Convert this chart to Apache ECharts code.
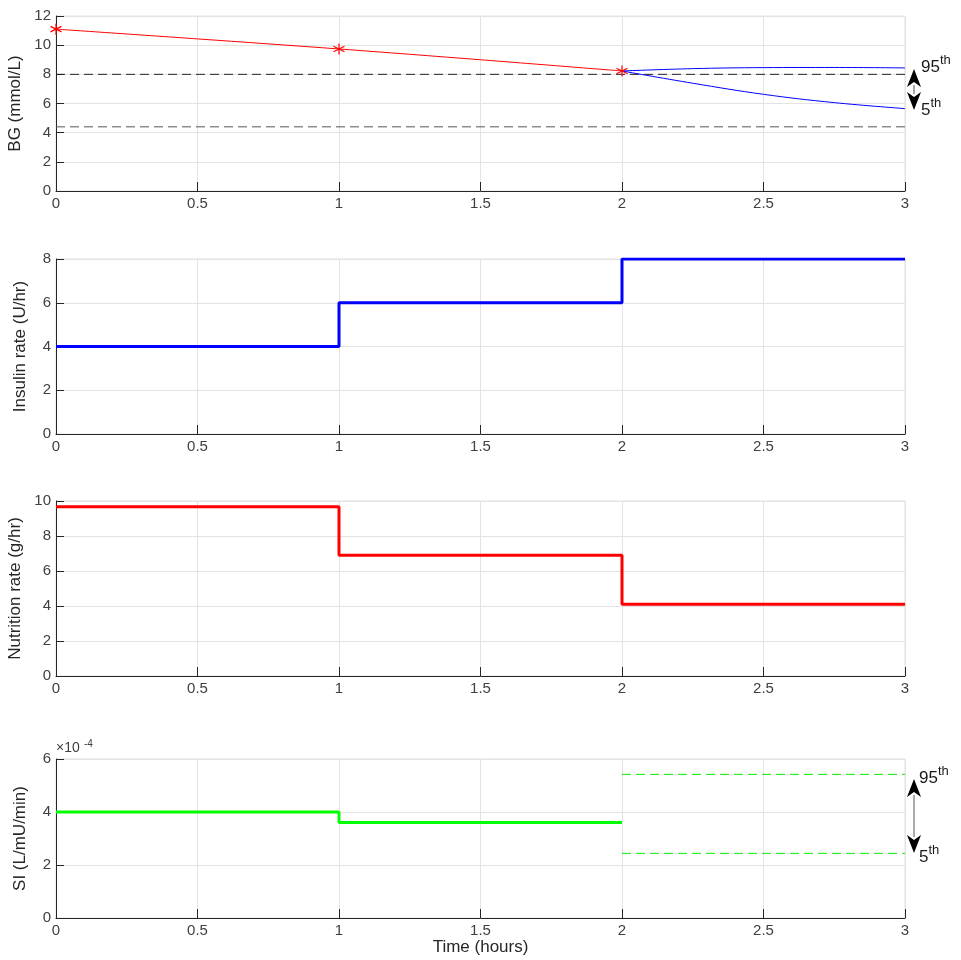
<!DOCTYPE html>
<html><head><meta charset="utf-8">
<script src="https://cdn.jsdelivr.net/npm/echarts@6/dist/echarts.min.js"></script>
<style>html,body{margin:0;padding:0;background:#fff}#c{width:961px;height:960px}</style>
</head><body><div id="c"></div>
<script>
// ---- data ----
const bgMeasTimes = [0, 1, 2];
const bgMeasured = [11.1, 9.74, 8.23];
const bgFitTimes = [0, 0.5, 1, 1.5, 2];
const bgFit = [11.1, 10.43, 9.74, 9.0, 8.23];
const fcTimes = [2, 2.25, 2.5, 2.75, 3];
const bg95 = [8.23, 8.39, 8.46, 8.47, 8.44];
const bg5 = [8.23, 7.39, 6.63, 6.06, 5.65];
const bgTargetUpper = 8.0;
const bgTargetLower = 4.4;
const stepTimes = [0, 1, 2, 3];
const insulinRates = [4, 6, 8];
const nutritionRates = [9.67, 6.9, 4.1];
const siRates = [4.0, 3.6];          // x10^-4 L/mU/min
const si95 = 5.42, si5 = 2.44;      // x10^-4
const xTicks = [0, 0.5, 1, 1.5, 2, 2.5, 3];

const FONT = 'Liberation Sans, Arial, sans-serif';
const pairs = (xs, ys) => ys.map((y, i) => [xs[i], y]);
const stepData = (vals) => { const d = vals.map((v, i) => [stepTimes[i], v]); if (stepTimes.length > vals.length) d.push([stepTimes[vals.length], vals[vals.length - 1]]); return d; };

const grids = [
  {left: 56, right: 56, top: 16, height: 175},
  {left: 56, right: 56, top: 259, height: 175},
  {left: 56, right: 56, top: 501, height: 175},
  {left: 56, right: 56, top: 759, height: 159}
].map(g => Object.assign(g, {show: true, borderColor: '#e3e3e3', borderWidth: 1, containLabel: false, outerBoundsMode: 'none'}));

const xAxis = grids.map((g, i) => ({
  type: 'value', gridIndex: i, min: xTicks[0], max: xTicks[xTicks.length - 1], interval: 0.5,
  axisLine: {show: true, onZero: false, lineStyle: {color: '#262626', width: 1}},
  axisTick: {show: true, inside: true, length: 9, lineStyle: {color: '#262626'}},
  axisLabel: {color: '#404040', fontSize: 15, fontFamily: FONT, margin: 5},
  splitLine: {show: true, lineStyle: {color: '#e3e3e3'}},
  name: i === 3 ? 'Time (hours)' : '', nameLocation: 'middle', nameGap: 19,
  nameTextStyle: {color: '#262626', fontSize: 17, fontFamily: FONT}
}));

const yDefs = [
  {max: 12, interval: 2, name: 'BG (mmol/L)'},
  {max: 8, interval: 2, name: 'Insulin rate (U/hr)'},
  {max: 10, interval: 2, name: 'Nutrition rate (g/hr)'},
  {max: 6, interval: 2, name: 'SI (L/mU/min)'}
];
const yAxis = yDefs.map((d, i) => ({
  type: 'value', gridIndex: i, min: 0, max: d.max, interval: d.interval,
  axisLine: {show: true, lineStyle: {color: '#262626', width: 1}},
  axisTick: {show: true, inside: true, length: 8, lineStyle: {color: '#262626'}},
  axisLabel: {color: '#404040', fontSize: 15, fontFamily: FONT, margin: 5},
  splitLine: {show: true, lineStyle: {color: '#e3e3e3'}},
  name: d.name, nameLocation: 'middle', nameGap: 27, nameRotate: 90,
  nameTextStyle: {color: '#262626', fontSize: 17, fontFamily: FONT}
}));

const asterisk = 'path://M0,-5L0,5M-4.33,-2.5L4.33,2.5M-4.33,2.5L4.33,-2.5';

const series = [
  {type: 'line', xAxisIndex: 0, yAxisIndex: 0, data: pairs(bgFitTimes, bgFit), smooth: 0.3, showSymbol: false,
   lineStyle: {color: '#ff0000', width: 1}, z: 3},
  {type: 'line', xAxisIndex: 0, yAxisIndex: 0, data: pairs(bgMeasTimes, bgMeasured), symbol: asterisk, symbolSize: 11,
   lineStyle: {width: 0}, itemStyle: {color: 'rgba(0,0,0,0)', borderColor: '#ff0000', borderWidth: 1.2}, z: 5},
  {type: 'line', xAxisIndex: 0, yAxisIndex: 0, data: pairs(fcTimes, bg95), smooth: 0.4, showSymbol: false,
   lineStyle: {color: '#0000ff', width: 1}, z: 3},
  {type: 'line', xAxisIndex: 0, yAxisIndex: 0, data: pairs(fcTimes, bg5), smooth: 0.4, showSymbol: false,
   lineStyle: {color: '#0000ff', width: 1}, z: 3},
  {type: 'line', xAxisIndex: 0, yAxisIndex: 0, data: [[0, bgTargetUpper], [3, bgTargetUpper]], showSymbol: false,
   lineStyle: {color: '#222', width: 1, type: [9, 5]}, z: 2},
  {type: 'line', xAxisIndex: 0, yAxisIndex: 0, data: [[0, bgTargetLower], [3, bgTargetLower]], showSymbol: false,
   lineStyle: {color: '#555', width: 1, type: [9, 5]}, z: 2},
  {type: 'line', xAxisIndex: 1, yAxisIndex: 1, data: stepData(insulinRates), step: 'end', showSymbol: false,
   lineStyle: {color: '#0000ff', width: 3}},
  {type: 'line', xAxisIndex: 2, yAxisIndex: 2, data: stepData(nutritionRates), step: 'end', showSymbol: false,
   lineStyle: {color: '#ff0000', width: 3}},
  {type: 'line', xAxisIndex: 3, yAxisIndex: 3, data: stepData(siRates), step: 'end', showSymbol: false,
   lineStyle: {color: '#00ff00', width: 3}},
  {type: 'line', xAxisIndex: 3, yAxisIndex: 3, data: [[2, si95], [3, si95]], showSymbol: false,
   lineStyle: {color: '#00ee00', width: 1, type: [9, 5]}},
  {type: 'line', xAxisIndex: 3, yAxisIndex: 3, data: [[2, si5], [3, si5]], showSymbol: false,
   lineStyle: {color: '#00ee00', width: 1, type: [9, 5]}}
].map(s => Object.assign({animation: false, silent: true}, s));

function arrow(x, y1, y2) {
  const h = 18, w = 7;
  return [
    {type: 'line', shape: {x1: x, y1: y1 + h - 2, x2: x, y2: y2 - h + 2}, style: {stroke: '#555', lineWidth: 1}},
    {type: 'polygon', shape: {points: [[x, y1], [x - w, y1 + h], [x, y1 + h - 5], [x + w, y1 + h]]}, style: {fill: '#000'}},
    {type: 'polygon', shape: {points: [[x, y2], [x - w, y2 - h], [x, y2 - h + 5], [x + w, y2 - h]]}, style: {fill: '#000'}}
  ];
}
function pct(x, yBase, main, mainW) {
  return [
    {type: 'text', x: x, y: yBase, style: {text: main, fontSize: 17, fontFamily: FONT, fill: '#1a1a1a', textVerticalAlign: 'bottom'}},
    {type: 'text', x: x + mainW, y: yBase - 9, style: {text: 'th', fontSize: 13, fontFamily: FONT, fill: '#1a1a1a', textVerticalAlign: 'bottom'}}
  ];
}

const graphic = [].concat(
  arrow(914, 69, 110),
  pct(921, 76, '95', 19), pct(921, 119, '5', 9.5),
  arrow(914, 779, 853),
  pct(919, 787, '95', 19), pct(919, 866, '5', 9.5),
  [{type: 'text', x: 56, y: 755, style: {text: '×10', fontSize: 14, fontFamily: FONT, fill: '#404040', textVerticalAlign: 'bottom'}},
   {type: 'text', x: 84, y: 749, style: {text: '-4', fontSize: 10, fontFamily: FONT, fill: '#404040', textVerticalAlign: 'bottom'}}]
);

const chart = echarts.init(document.getElementById('c'), null, {renderer: 'canvas'});
chart.setOption({animation: false, grid: grids, xAxis, yAxis, series, graphic});
</script></body></html>
